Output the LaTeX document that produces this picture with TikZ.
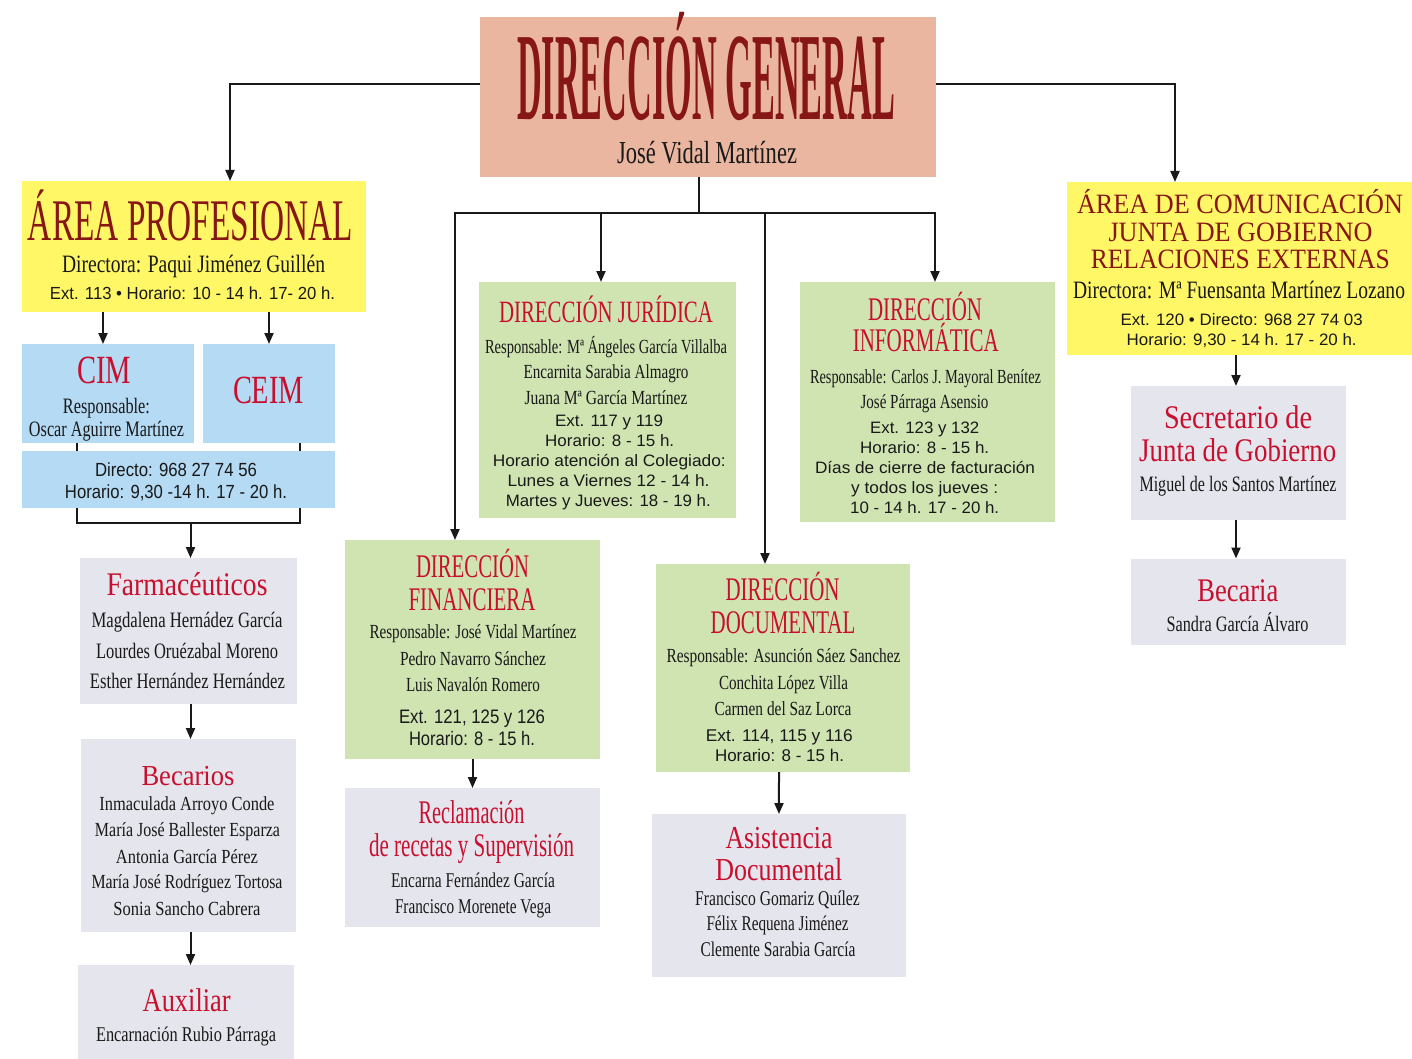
\documentclass[tikz,border=0pt]{standalone}
\usepackage{fontspec}
\setmainfont{Liberation Serif}
\setsansfont{Liberation Sans}
\usepackage{graphicx}
\usetikzlibrary{arrows.meta}
\definecolor{peach}{RGB}{234,182,160}
\definecolor{yel}{RGB}{255,247,102}
\definecolor{blu}{RGB}{180,218,244}
\definecolor{grn}{RGB}{208,228,178}
\definecolor{lav}{RGB}{229,229,237}
\definecolor{dkred}{RGB}{135,22,22}
\definecolor{myred}{RGB}{200,16,46}
\definecolor{ink}{RGB}{25,25,25}
\newcommand\fw[2]{\resizebox{#1pt}{\height}{#2}}
\newcommand\tline[6]{\node[#1,anchor=base,inner sep=0pt,outer sep=0pt] (#2) at (#3,#4) {\fw{#5}{#6}};}
\newcommand\bx[6]{\node[rectangle,fill=#2,draw=none,inner sep=0pt,outer sep=0pt,minimum width={(#5)-(#3)},minimum height={(#6)-(#4)}] (#1) at ({((#3)+(#5))/2},{((#4)+(#6))/2}) {};}
\tikzset{
  arr/.style={-{Triangle[length=11pt,width=9pt]}, line width=2pt, draw=ink},
  ln/.style={line width=2pt, draw=ink},
  dgt/.style={font=\bfseries\fontsize{#1}{#1}\selectfont, text=dkred},
  drt/.style={font=\fontsize{#1}{#1}\selectfont, text=dkred},
  rt/.style={font=\fontsize{#1}{#1}\selectfont, text=myred},
  nm/.style={font=\fontsize{#1}{#1}\selectfont, text=ink},
  sn/.style={font=\sffamily\fontsize{#1}{#1}\selectfont, text=ink}
}
\begin{document}
\begin{tikzpicture}[x=1pt,y=-1pt]
\useasboundingbox (0,0) rectangle (1412,1059);
\fill[white] (0,0) rectangle (1412,1059);
% boxes
\bx{dg}{peach}{480}{17}{936}{177}
\bx{ap}{yel}{22}{181}{366}{312}
\bx{cim}{blu}{22}{344}{194}{443}
\bx{ceim}{blu}{203}{344}{335}{443}
\bx{dir}{blu}{22}{451}{335}{507.5}
\bx{farm}{lav}{80}{558}{297}{704}
\bx{bec}{lav}{81}{739}{296}{931.5}
\bx{aux}{lav}{78}{965}{294}{1059}
\bx{jur}{grn}{479}{282}{736}{518}
\bx{inf}{grn}{800}{282}{1055}{522}
\bx{fin}{grn}{345}{540}{600}{759}
\bx{rec}{lav}{345}{788}{600}{926.5}
\bx{doc}{grn}{656}{564}{910}{772}
\bx{asi}{lav}{651.5}{814}{906}{977}
\bx{ac}{yel}{1067}{182}{1412}{355}
\bx{sec}{lav}{1131}{386}{1346}{519.5}
\bx{becaria}{lav}{1131}{558.5}{1346}{645}
% connectors
\draw[arr] ([yshift=13pt]dg.west) -| ([xshift=36pt]ap.north);
\draw[arr] ([yshift=13pt]dg.east) -| ([xshift=-64.5pt]ac.north);
\coordinate (hub) at (699,213);
\draw[ln] ([xshift=-9pt]dg.south) -- (hub);
\draw[arr] (hub) -| ([xshift=-17.5pt]fin.north);
\draw[arr] (hub) -| ([xshift=-6.5pt]jur.north);
\draw[arr] (hub) -| ([xshift=-18pt]doc.north);
\draw[arr] (hub) -| ([xshift=7.5pt]inf.north);
\draw[arr] ([xshift=-91pt]ap.south) -- ([xshift=-5pt]cim.north);
\draw[arr] ([xshift=75pt]ap.south) -- (ceim.north);
\draw[ln] ([xshift=-31pt]cim.south) -- ([xshift=-101.5pt]dir.north);
\draw[ln] ([xshift=31pt]ceim.south) -- ([xshift=121.5pt]dir.north);
\draw[ln] ([xshift=-101.5pt]dir.south) -- ++(0,15) -| ([xshift=121.5pt]dir.south);
\coordinate (brk) at (190.5,522);
\draw[arr] (brk) -- (brk |- farm.north);
\draw[arr] ([xshift=2pt]farm.south) -- ([xshift=2pt]bec.north);
\draw[arr] ([xshift=2pt]bec.south) -- ([xshift=4.5pt]aux.north);
\draw[arr] (fin.south) -- (rec.north);
\draw[arr] ([xshift=-4pt]doc.south) -- ([xshift=0.2pt]asi.north);
\draw[arr] ([xshift=-3.5pt]ac.south) -- ([xshift=-2.5pt]sec.north);
\draw[arr] ([xshift=-2.5pt]sec.south) -- ([xshift=-2.5pt]becaria.north);
% Direccion General
\tline{dgt=125}{dgA}{706}{120}{378}{DIRECCIÓN GENERAL}
\tline{nm=32}{dgB}{707}{164}{180}{José Vidal Martínez}
% Area profesional
\tline{drt=59}{apA}{190.5}{241}{325}{ÁREA PROFESIONAL}
\tline{nm=25}{apB}{193.5}{272}{263}{Directora: Paqui Jiménez Guillén}
\tline{sn=17.5}{apC}{192.5}{299}{285}{Ext. 113 • Horario: 10 - 14 h. 17- 20 h.}
\tline{rt=40}{cimA}{104}{383}{54}{CIM}
\tline{nm=22}{cimB}{106.5}{413}{87}{Responsable:}
\tline{nm=22}{cimC}{106.5}{436.7}{155}{Oscar Aguirre Martínez}
\tline{rt=40}{ceimA}{268.5}{403.3}{71}{CEIM}
\tline{sn=19}{dirA}{176}{476.7}{162}{Directo: 968 27 74 56}
\tline{sn=19}{dirB}{176}{498.3}{222}{Horario: 9,30 -14 h. 17 - 20 h.}
\tline{rt=33}{farmA}{187}{595}{161}{Farmacéuticos}
\tline{nm=22}{farmB}{187}{627.3}{191}{Magdalena Hernádez García}
\tline{nm=22}{farmC}{187}{658.3}{182}{Lourdes Oruézabal Moreno}
\tline{nm=22}{farmD}{187.5}{688.3}{195}{Esther Hernández Hernández}
\tline{rt=29}{becA}{188}{785}{93}{Becarios}
\tline{nm=20}{becB}{187}{810}{175}{Inmaculada Arroyo Conde}
\tline{nm=20}{becC}{187.5}{836.7}{185}{María José Ballester Esparza}
\tline{nm=20}{becD}{187}{863.3}{142}{Antonia García Pérez}
\tline{nm=20}{becE}{187}{888.3}{191}{María José Rodríguez Tortosa}
\tline{nm=20}{becF}{187}{915}{147}{Sonia Sancho Cabrera}
\tline{rt=33}{auxA}{186.7}{1011.7}{88}{Auxiliar}
\tline{nm=21}{auxB}{186}{1041.7}{180}{Encarnación Rubio Párraga}
% Juridica
\tline{rt=31}{jurA}{606}{322.3}{214}{DIRECCIÓN JURÍDICA}
\tline{nm=20}{jurB}{606}{353}{242}{Responsable: Mª Ángeles García Villalba}
\tline{nm=20}{jurC}{606}{378.5}{165}{Encarnita Sarabia Almagro}
\tline{nm=20}{jurD}{606}{404}{163}{Juana Mª García Martínez}
\tline{sn=16.5}{jurE}{609}{426.7}{108}{Ext. 117 y 119}
\tline{sn=16.5}{jurF}{609.7}{446.7}{129}{Horario: 8 - 15 h.}
\tline{sn=16.5}{jurG}{609.3}{466.7}{233}{Horario atención al Colegiado:}
\tline{sn=16.5}{jurH}{608.5}{486.7}{202}{Lunes a Viernes 12 - 14 h.}
\tline{sn=16.5}{jurI}{608.3}{506}{205}{Martes y Jueves: 18 - 19 h.}
% Informatica
\tline{rt=33}{infA}{925}{320}{114}{DIRECCIÓN}
\tline{rt=33}{infB}{925.8}{351.7}{146}{INFORMÁTICA}
\tline{nm=20}{infC}{925.5}{383.3}{231}{Responsable: Carlos J. Mayoral Benítez}
\tline{nm=20}{infD}{924.5}{408.3}{128}{José Párraga Asensio}
\tline{sn=16.5}{infE}{924.7}{433}{109}{Ext. 123 y 132}
\tline{sn=16.5}{infF}{924.7}{453}{129}{Horario: 8 - 15 h.}
\tline{sn=16.5}{infG}{925}{473}{220}{Días de cierre de facturación}
\tline{sn=16.5}{infH}{924.7}{493}{147}{y todos los jueves :}
\tline{sn=16.5}{infI}{924.7}{513}{149}{10 - 14 h. 17 - 20 h.}
% Financiera
\tline{rt=33}{finA}{472.5}{577.7}{113}{DIRECCIÓN}
\tline{rt=33}{finB}{472}{610}{127}{FINANCIERA}
\tline{nm=20}{finC}{473}{638.3}{207}{Responsable: José Vidal Martínez}
\tline{nm=20}{finD}{473}{665}{146}{Pedro Navarro Sánchez}
\tline{nm=20}{finE}{473}{691.7}{134}{Luis Navalón Romero}
\tline{sn=19.5}{finF}{472}{723.3}{146}{Ext. 121, 125 y 126}
\tline{sn=19.5}{finG}{472}{745}{126}{Horario: 8 - 15 h.}
\tline{rt=33}{recA}{471.5}{823.3}{106}{Reclamación}
\tline{rt=33}{recB}{471.6}{856}{205}{de recetas y Supervisión}
\tline{nm=21}{recC}{473}{887.3}{164}{Encarna Fernández García}
\tline{nm=21}{recD}{473}{913.3}{156}{Francisco Morenete Vega}
% Documental
\tline{rt=33}{docA}{782.5}{600}{114}{DIRECCIÓN}
\tline{rt=33}{docB}{783}{633.3}{144.6}{DOCUMENTAL}
\tline{nm=20}{docC}{783.5}{662.7}{234}{Responsable: Asunción Sáez Sanchez}
\tline{nm=20}{docD}{783.5}{689.3}{129}{Conchita López Villa}
\tline{nm=20}{docE}{783}{715}{137}{Carmen del Saz Lorca}
\tline{sn=17}{docF}{779.3}{741.7}{147}{Ext. 114, 115 y 116}
\tline{sn=17}{docG}{779.5}{761.7}{129}{Horario: 8 - 15 h.}
\tline{rt=32}{asiA}{779}{848.3}{107}{Asistencia}
\tline{rt=32}{asiB}{778.8}{880.7}{127}{Documental}
\tline{nm=21}{asiC}{777.5}{905}{164.6}{Francisco Gomariz Quílez}
\tline{nm=21}{asiD}{777.5}{930}{142}{Félix Requena Jiménez}
\tline{nm=21}{asiE}{778}{956.7}{155}{Clemente Sarabia García}
% Area de comunicacion
\tline{drt=28}{acA}{1240}{213.3}{326}{ÁREA DE COMUNICACIÓN}
\tline{drt=28}{acB}{1240.5}{241.7}{264}{JUNTA DE GOBIERNO}
\tline{drt=28}{acC}{1240.3}{268.3}{299}{RELACIONES EXTERNAS}
\tline{nm=25}{acD}{1239}{298.3}{332}{Directora: Mª Fuensanta Martínez Lozano}
\tline{sn=16.5}{acE}{1241.7}{325}{242}{Ext. 120 • Directo: 968 27 74 03}
\tline{sn=16.5}{acF}{1241.7}{345}{230}{Horario: 9,30 - 14 h. 17 - 20 h.}
\tline{rt=33}{secA}{1238}{428.3}{148}{Secretario de}
\tline{rt=33}{secB}{1237.7}{461.7}{197}{Junta de Gobierno}
\tline{nm=22}{secC}{1238}{491.7}{197}{Miguel de los Santos Martínez}
\tline{rt=33}{bcaA}{1237.8}{601.7}{81}{Becaria}
\tline{nm=22}{bcaB}{1237.5}{631.7}{142}{Sandra García Álvaro}
\end{tikzpicture}
\end{document}
